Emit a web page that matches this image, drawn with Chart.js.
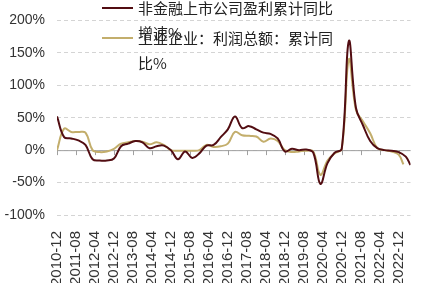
<!DOCTYPE html>
<html>
<head>
<meta charset="utf-8">
<script src="https://cdn.jsdelivr.net/npm/chart.js@4"></script>
<style>
  html, body { margin: 0; padding: 0; background: #fff; }
  #wrap { width: 425px; height: 283px; }
</style>
</head>
<body>
<div id="wrap"><canvas id="profit" width="425" height="283"></canvas></div>
<script>
// months counted from 2010-12
const tickLabels = ["2010-12", "2011-08", "2012-04", "2012-12", "2013-08", "2014-04", "2014-12",
  "2015-08", "2016-04", "2016-12", "2017-08", "2018-04", "2018-12", "2019-08", "2020-04",
  "2020-12", "2021-08", "2022-04", "2022-12"];
const tickMonths = [0, 8, 16, 24, 32, 40, 48, 56, 64, 72, 80, 88, 96, 104, 112, 120, 128, 136, 144];

const listedLabel = "非金融上市公司盈利累计同比增速%";
const listedMonths = [0, 3, 6, 9, 12, 15, 18, 21, 24, 27, 30, 33, 36, 39, 42, 45, 48, 51, 54, 57,
  60, 63, 66, 69, 72, 75, 78, 81, 84, 87, 90, 93, 96, 99, 102, 105, 108, 111, 114, 117,
  120, 123, 126, 129, 132, 135, 138, 141, 144, 147, 149];
const listedValues = [52, 20, 18, 15, 8, -14, -16, -16, -13, 6, 10, 14, 12, 3, 6, 7, 0, -14, -2, -12,
  -5, 7, 8, 20, 32, 52, 34, 37, 32, 27, 25, 18, -2, 2, 0, 1, -4, -52, -20, -4,
  2, 168, 65, 38, 14, 3, 0, -1, -3, -10, -23];

const industryLabel = "工业企业：利润总额：累计同比%";
const industryMonths = [0, 3, 6, 9, 12, 15, 18, 21, 24, 27, 30, 33, 36, 39, 42, 45, 48, 51, 54, 57,
  60, 63, 66, 69, 72, 75, 78, 81, 84, 87, 90, 93, 96, 99, 102, 105, 108, 111, 114, 117,
  120, 123, 126, 129, 132, 135, 138, 141, 144, 146];
const industryValues = [0, 33, 28, 28, 27, 0, -3, -2, 2, 10, 12, 14, 13, 9, 12, 8, 0, -1, -1, -1,
  0, 8, 5, 6, 10, 28, 23, 22, 21, 13, 18, 14, 0, -3, -2, -1, -2, -38, -16, -5,
  2, 140, 62, 44, 26, 3, 0, -2, -7, -22];

const toPoints = (months, values) => months.map((m, i) => ({ x: m, y: values[i] }));

const zeroLine = {
  id: "zeroLine",
  beforeDatasetsDraw(chart) {
    const { ctx, chartArea, scales } = chart;
    const y0 = scales.y.getPixelForValue(0);
    ctx.save();
    ctx.strokeStyle = "#a0a0a0";
    ctx.lineWidth = 1;
    ctx.beginPath();
    ctx.moveTo(chartArea.left, y0 + 0.5);
    ctx.lineTo(chartArea.right, y0 + 0.5);
    tickMonths.forEach((m) => {
      const x = Math.round(scales.x.getPixelForValue(m)) + 0.5;
      ctx.moveTo(x, y0);
      ctx.lineTo(x, y0 + 5);
    });
    ctx.stroke();
    ctx.restore();
  },
};

// legend sits over the plot, labels wrap like the original
const wrapLegend = {
  id: "wrapLegend",
  afterDraw(chart) {
    const ctx = chart.ctx;
    ctx.save();
    ctx.font = '15px "Noto Sans CJK SC"';
    ctx.textBaseline = "middle";
    ctx.fillStyle = "#222";
    const rows = [8, 38];
    chart.data.datasets.forEach((ds, i) => {
      const y = rows[i];
      ctx.strokeStyle = ds.borderColor;
      ctx.lineWidth = 2;
      ctx.beginPath();
      ctx.moveTo(102, y);
      ctx.lineTo(133, y);
      ctx.stroke();
      let line = "";
      let ly = y;
      for (const ch of ds.label) {
        if (ctx.measureText(line + ch).width > 198) {
          ctx.fillText(line, 138, ly);
          line = "";
          ly += 25;
        }
        line += ch;
      }
      ctx.fillText(line, 138, ly);
    });
    ctx.restore();
  },
};

new Chart(document.getElementById("profit"), {
  type: "line",
  data: {
    datasets: [
      {
        label: listedLabel,
        data: toPoints(listedMonths, listedValues),
        borderColor: "#520d12",
        borderWidth: 2,
        pointRadius: 0,
        tension: 0.4,
        order: 1,
      },
      {
        label: industryLabel,
        data: toPoints(industryMonths, industryValues),
        borderColor: "#c3ae6c",
        borderWidth: 2,
        pointRadius: 0,
        tension: 0.4,
        order: 2,
      },
    ],
  },
  options: {
    responsive: false,
    animation: false,
    devicePixelRatio: 1,
    layout: { padding: { top: 19, right: 10, left: 0, bottom: 0 } },
    plugins: { legend: { display: false }, tooltip: { enabled: false } },
    scales: {
      x: {
        type: "linear",
        min: 0,
        max: 149,
        afterBuildTicks: (scale) => {
          scale.ticks = tickMonths.map((m) => ({ value: m }));
        },
        afterFit: (scale) => {
          scale.height = 68;
        },
        ticks: {
          autoSkip: false,
          minRotation: 90,
          maxRotation: 90,
          padding: 8,
          color: "#333",
          font: { family: "Liberation Sans", size: 15 },
          callback: (v) => tickLabels[tickMonths.indexOf(v)],
        },
        grid: { display: false },
        border: { display: false },
      },
      y: {
        min: -100,
        max: 200,
        afterFit: (scale) => {
          scale.width = 57;
        },
        ticks: {
          stepSize: 50,
          padding: 12,
          color: "#333",
          font: { family: "Liberation Sans", size: 14 },
          callback: (v) => v + "%",
        },
        grid: { color: "#d4d4d4", drawTicks: false },
        border: { display: false, dash: [4, 3] },
      },
    },
  },
  plugins: [zeroLine, wrapLegend],
});
</script>
</body>
</html>
